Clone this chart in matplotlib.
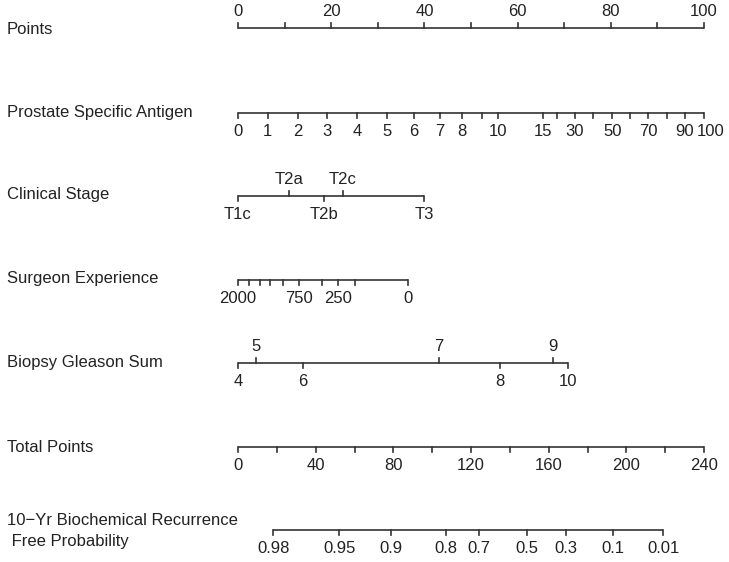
import matplotlib
matplotlib.use("Agg")
import matplotlib.pyplot as plt

plt.rcParams['font.family'] = ['Liberation Sans', 'DejaVu Sans']

# scale values and their position on the 0-100 points scale
points_ticks = [0, 10, 20, 30, 40, 50, 60, 70, 80, 90, 100]
points_labels = ['0', '', '20', '', '40', '', '60', '', '80', '', '100']

psa_values = [0, 1, 2, 3, 4, 5, 6, 7, 8, 9, 10, 15, 20, 30, 40, 50, 60, 70, 80, 90, 100]
psa_points = [0, 6.4, 12.9, 19.1, 25.5, 32.0, 37.8, 43.3, 48.1, 52.4, 55.8,
              65.5, 68.5, 72.3, 76.2, 80.3, 84.1, 88.0, 92.1, 95.9, 100]
psa_labels = ['0', '1', '2', '3', '4', '5', '6', '7', '8', '', '10',
              '15', '', '30', '', '50', '', '70', '', '90', '100']

stage_labels = ['T1c', 'T2a', 'T2b', 'T2c', 'T3']
stage_points = [0, 10.9, 18.5, 22.5, 39.9]
stage_side = ['below', 'above', 'below', 'above', 'below']

surgeon_points = [0, 2.4, 4.7, 6.9, 9.7, 13.1, 18.0, 21.5, 25.1, 36.5]
surgeon_labels = ['2000', '', '', '', '', '750', '', '250', '', '0']

gleason_labels = ['4', '5', '6', '7', '8', '9', '10']
gleason_points = [0, 3.9, 13.9, 43.1, 56.2, 67.6, 70.8]
gleason_side = ['below', 'above', 'below', 'above', 'below', 'above', 'below']

total_ticks = [0, 20, 40, 60, 80, 100, 120, 140, 160, 180, 200, 220, 240]
total_labels = ['0', '', '40', '', '80', '', '120', '', '160', '', '200', '', '240']

prob_labels = ['0.98', '0.95', '0.9', '0.8', '0.7', '0.5', '0.3', '0.1', '0.01']
prob_total_points = [18.1, 52.2, 79.0, 106.9, 124.0, 148.8, 168.9, 193.2, 219.0]

row_names = ['Points', 'Prostate Specific Antigen', 'Clinical Stage', 'Surgeon Experience',
             'Biopsy Gleason Sum', 'Total Points',
             '10\u2212Yr Biochemical Recurrence\n Free Probability']

W, H = 729, 562
fig = plt.figure(figsize=(W / 100, H / 100), dpi=100)
# x axis in points units (0..100), y axis in pixel rows
ax = fig.add_axes([238 / W, 0, 466 / W, 1])
ax.set_xlim(0, 100)
ax.set_ylim(H, 0)
ax.axis('off')

LC = '#333333'
TC = '#222222'
FS = 12
TL = 5


def draw_scale(y, xs, labels, sides, nudge=None):
    ax.plot([min(xs), max(xs)], [y, y], color=LC, lw=1.2, solid_capstyle='butt', clip_on=False)
    for i, (x, lab, side) in enumerate(zip(xs, labels, sides)):
        dx = nudge.get(i, 0) if nudge else 0
        if side == 'above':
            ax.plot([x, x], [y, y - TL], color=LC, lw=1.2, clip_on=False)
            if lab:
                ax.text(x + dx, y - 9, lab, ha='center', va='bottom', fontsize=FS, color=TC)
        else:
            ax.plot([x, x], [y, y + TL], color=LC, lw=1.2, clip_on=False)
            if lab:
                ax.text(x + dx, y + 11, lab, ha='center', va='top', fontsize=FS, color=TC)


draw_scale(28, points_ticks, points_labels, ['above'] * len(points_ticks))
# last PSA label sits a little right of its tick, as in the original
draw_scale(113, psa_points, psa_labels, ['below'] * len(psa_points), nudge={20: 1.5})
draw_scale(196, stage_points, stage_labels, stage_side)
draw_scale(280, surgeon_points, surgeon_labels, ['below'] * len(surgeon_points))
draw_scale(363, gleason_points, gleason_labels, gleason_side)
draw_scale(447, [t * 100 / 240 for t in total_ticks], total_labels, ['below'] * len(total_ticks))
draw_scale(530, [t * 100 / 240 for t in prob_total_points], prob_labels, ['below'] * len(prob_labels))

row_y = [30, 112, 195, 278, 362, 447, 531]
for name, y in zip(row_names, row_y):
    fig.text(7 / W, 1 - y / H, name, ha='left', va='center', fontsize=FS, color=TC,
             linespacing=1.45)

fig.savefig('out.png', dpi=100)
